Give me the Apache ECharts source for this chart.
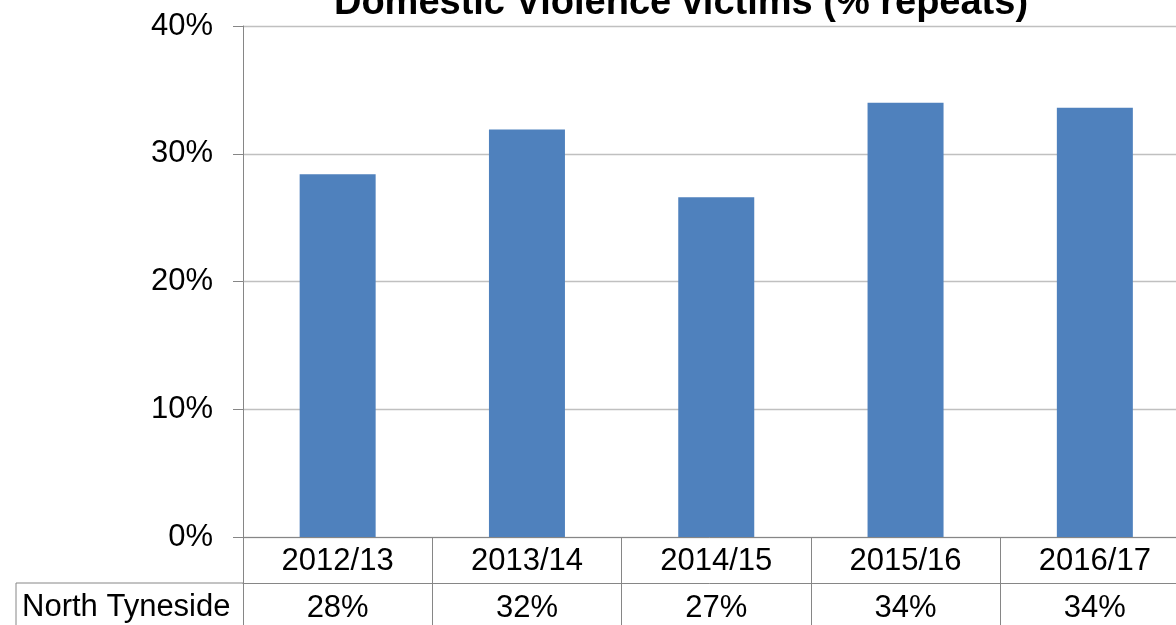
<!DOCTYPE html>
<html>
<head>
<meta charset="utf-8">
<script src="https://cdn.jsdelivr.net/npm/echarts@6/dist/echarts.min.js"></script>
<style>html,body{margin:0;padding:0;background:#fff}#c{width:1176px;height:625px}</style>
</head>
<body>
<div id="c"></div>
<script>
const titleText = 'Domestic Violence victims (% repeats)';
const categories = ['2012/13', '2013/14', '2014/15', '2015/16', '2016/17'];
const seriesName = 'North Tyneside';
const values = [28.4, 31.9, 26.6, 34.0, 33.6];
const yTicks = [0, 10, 20, 30, 40];
const tableLabels = values.map(v => Math.round(v) + '%');

const FONT = 'Liberation Sans, Arial, sans-serif';
const chart = echarts.init(document.getElementById('c'), null, {renderer: 'canvas'});
chart.setOption({
  animation: false,
  backgroundColor: '#fff',
  title: {
    text: titleText,
    left: 676, textAlign: 'center', top: -20,
    textStyle: {fontFamily: FONT, fontSize: 38, fontWeight: 'bold', color: '#000'}
  },
  grid: {left: 243, top: 26, width: 946.5, height: 511, containLabel: false, outerBoundsMode: 'none'},
  xAxis: [{
    type: 'category', data: categories, position: 'bottom',
    axisLine: {show: true, lineStyle: {color: '#868686', width: 1}},
    axisTick: {show: true, alignWithLabel: false, length: 92, inside: false, lineStyle: {color: '#868686', width: 1}},
    axisLabel: {fontFamily: FONT, fontSize: 31, color: '#000', margin: 24, verticalAlign: 'middle', interval: 0}
  }, {
    type: 'category', data: tableLabels, position: 'bottom', offset: 46,
    axisLine: {show: true, lineStyle: {color: '#868686', width: 1}},
    axisTick: {show: false},
    axisLabel: {fontFamily: FONT, fontSize: 31, color: '#000', margin: 25, verticalAlign: 'middle', interval: 0}
  }],
  yAxis: {
    type: 'value', min: yTicks[0], max: yTicks[yTicks.length - 1], interval: 10,
    axisLine: {show: true, lineStyle: {color: '#868686', width: 1}},
    axisTick: {show: true, length: 10, lineStyle: {color: '#868686', width: 1}},
    axisLabel: {fontFamily: FONT, fontSize: 31, color: '#000', margin: 30, formatter: '{value}%', verticalAlign: 'middle', padding: [3, 0, 0, 0]},
    splitLine: {show: true, lineStyle: {color: '#c0c0c0', width: 1.3}}
  },
  series: [{
    name: seriesName, type: 'bar', data: values, barWidth: 76, xAxisIndex: 0,
    itemStyle: {color: '#4f81bd'}
  }],
  graphic: [
    {type: 'line', shape: {x1: 16, y1: 583, x2: 243, y2: 583}, style: {stroke: '#868686', lineWidth: 1}},
    {type: 'line', shape: {x1: 16, y1: 583, x2: 16, y2: 630}, style: {stroke: '#868686', lineWidth: 1}},
    {type: 'text', x: 22, y: 607, style: {text: seriesName, font: '31px ' + FONT, fill: '#000', verticalAlign: 'middle', align: 'left'}}
  ]
});
</script>
</body>
</html>
